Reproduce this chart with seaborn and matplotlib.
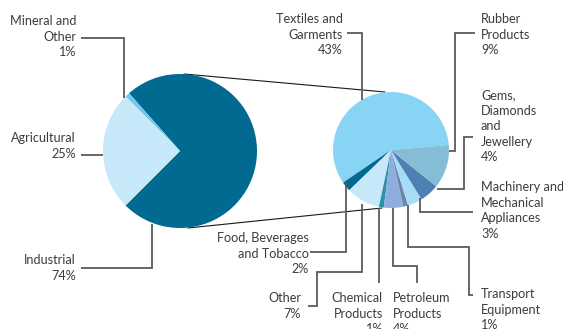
import matplotlib
matplotlib.use("Agg")
import matplotlib.pyplot as plt
import seaborn as sns

# Exports by sector (share of total, %)
sector_labels = ["Industrial", "Mineral and\nOther", "Agricultural"]
sector_values = [74, 1, 25]
sector_colors = ["#006a91", "#75c6ea", "#c6e8f8"]

# Breakdown of industrial exports (share of total, %)
industry_labels = [
    "Textiles and\nGarments",
    "Food, Beverages\nand Tobacco",
    "Other",
    "Chemical\nProducts",
    "Petroleum\nProducts",
    "Transport\nEquipment",
    "Machinery and\nMechanical\nAppliances",
    "Gems,\nDiamonds\nand\nJewellery",
    "Rubber\nProducts",
]
industry_values = [43, 2, 7, 1, 4, 1, 3, 4, 9]
industry_colors = ["#88d4f5", "#006a91", "#c6e8f8", "#2b90aa", "#8eaedd",
                   "#6b86aa", "#a6dcf5", "#4f80b4", "#85bcd6"]

sns.set_theme(style="white")
plt.rcParams["font.family"] = ["Lato", "DejaVu Sans"]

W, H = 563, 329
fig = plt.figure(figsize=(W / 100, H / 100), dpi=100)
ax = fig.add_axes([0, 0, 1, 1])


def P(x, y):
    """Convert top-left based pixel position into axes data coordinates."""
    return x, H - y


TEXT = "#3c3c3c"
LEAD = "#5a5a5a"
FS = 9.1

# Left pie: sectors
ax.pie(sector_values, colors=sector_colors, startangle=225, counterclock=True,
       center=P(180, 151), radius=77, wedgeprops=dict(linewidth=0), frame=True)

# Right pie: industrial breakdown
ax.pie(industry_values, colors=industry_colors, startangle=5, counterclock=True,
       center=P(391, 150), radius=58, wedgeprops=dict(linewidth=0), frame=True)

ax.set_xlim(0, W)
ax.set_ylim(0, H)
ax.set_aspect("equal")
ax.axis("off")

# Connector lines between the two pies
for a, b in [((184, 74), (385, 92)), ((188, 228), (382, 208))]:
    xs, ys = zip(P(*a), P(*b))
    ax.plot(xs, ys, color="#1a1a1a", lw=0.8, zorder=0)


def leader(points):
    xs, ys = zip(*[P(x, y) for x, y in points])
    ax.plot(xs, ys, color=LEAD, lw=1.3, solid_capstyle="butt",
            solid_joinstyle="miter", zorder=3)


def label(text, value, x, y, ha):
    tx, ty = P(x, y)
    ax.text(tx, ty, f"{text}\n{value}%", ha=ha, va="top", ma=ha,
            fontsize=FS, color=TEXT, linespacing=1.36)


# Left pie labels
label(sector_labels[1], sector_values[1], 76, 15, "right")
leader([(81, 38), (124, 38), (124, 98)])
label(sector_labels[2], sector_values[2], 76, 132, "right")
leader([(81, 155), (103, 155)])
label(sector_labels[0], sector_values[0], 76, 254, "right")
leader([(81, 268), (152, 268), (152, 224)])

# Right pie labels
label(industry_labels[0], industry_values[0], 343, 13, "right")
leader([(347, 33), (362, 33), (362, 100)])
label(industry_labels[8], industry_values[8], 481, 13, "left")
leader([(475, 33), (455, 33), (455, 151), (449, 151)])
label(industry_labels[7], industry_values[7], 481, 89, "left")
leader([(473, 137), (464, 137), (464, 189), (437, 189)])
label(industry_labels[6], industry_values[6], 481, 181, "left")
leader([(420, 198), (420, 212), (473, 212)])
label(industry_labels[5], industry_values[5], 481, 288, "left")
leader([(408, 205), (408, 247), (469, 247), (469, 295), (473, 295)])
label(industry_labels[4], industry_values[4], 393, 292, "left")
leader([(393, 208), (393, 266), (417, 266), (417, 283)])
label(industry_labels[3], industry_values[3], 383, 292, "right")
leader([(379, 208), (379, 283)])
label(industry_labels[2], industry_values[2], 301, 292, "right")
leader([(308, 306), (317, 306), (317, 272), (362, 272), (362, 204)])
label(industry_labels[1], industry_values[1], 309, 232, "right")
leader([(310, 252), (346, 252), (346, 182)])

fig.savefig("out.png", dpi=100, facecolor="white")
